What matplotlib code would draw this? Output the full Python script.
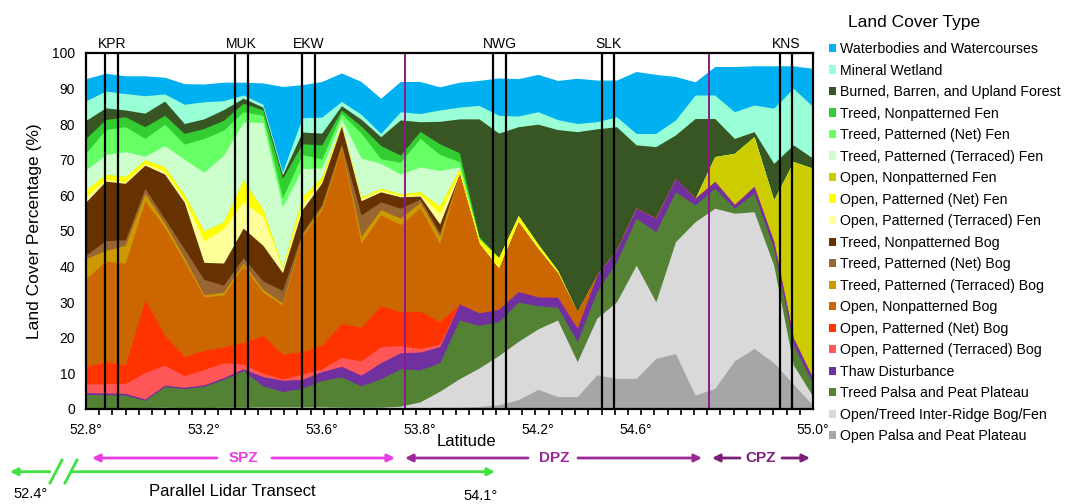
import numpy as np
import matplotlib.pyplot as plt
from matplotlib.patches import Patch

plt.rcParams['font.family'] = ['Liberation Sans', 'DejaVu Sans']

W, H = 1065, 504

# 38 samples along the transect, 52.8 to 55.0 deg (axis is not linear in latitude)
sample = np.arange(38)
tick_idx = [0, 6, 12, 17, 23, 28, 37]
tick_labels = ['52.8°', '53.2°', '53.6°', '53.8°', '54.2°', '54.6°', '55.0°']

sites = ['KPR', 'MUK', 'EKW', 'NWG', 'SLK', 'KNS']
site_lines = [(0.97, 1.65), (7.59, 8.22), (10.99, 11.64),
              (20.73, 21.37), (26.25, 26.88), (35.3, 35.95)]
zone_lines = [16.21, 31.69]

# land cover percentage per sample, bottom of the stack first
open_palsa = [0, 0, 0, 0, 0, 0, 0, 0, 0, 0, 0, 0, 0, 0, 0, 0, 0.2, 0.3, 0.5, 0.5,
              0.7, 1.2, 2.6, 5.5, 3.5, 3.5, 9.6, 8.6, 8.6, 14.2, 15.6, 3.9, 5.8, 13.5,
              17.0, 13.0, 7.0, 1.0]
inter_ridge = [0.3, 0.4, 0.4, 0.4, 0.5, 0.4, 0.4, 0.5, 0.5, 0.6, 0.6, 0.6, 0.6, 0.5,
               0.5, 0.5, 0.6, 1.7, 4.5, 8.0, 10.8, 13.8, 16.4, 17.0, 21.5, 9.8, 15.9,
               21.5, 31.8, 15.9, 31.4, 48.7, 50.6, 41.5, 38.4, 27.4, 5.4, 2.5]
treed_palsa = [3.8, 3.6, 3.5, 2.0, 5.8, 5.3, 6.0, 7.8, 10.3, 5.9, 4.3, 5.2, 7.4, 8.5,
               6.0, 8.0, 10.5, 9.0, 8.0, 16.5, 12.0, 9.5, 11.0, 6.5, 3.6, 5.6, 7.5,
               11.3, 13.2, 19.7, 14.0, 4.7, 5.6, 1.4, 5.2, 4.7, 5.6, 3.5]
thaw = [0.5, 0.5, 0.5, 0.4, 0.4, 0.4, 0.4, 0.5, 0.5, 2.6, 3.2, 2.5, 2.5, 3.0, 3.0, 4.5,
        4.5, 5.0, 4.5, 4.5, 3.5, 3.5, 3.0, 2.5, 2.8, 3.8, 4.6, 3.3, 2.8, 3.8, 3.8, 1.9,
        1.9, 1.0, 1.9, 1.9, 1.9, 1.5]
open_terr_bog = [2.4, 2.6, 2.8, 7.5, 5.6, 3.3, 4.3, 4.2, 1.3, 1.0, 0.3, 1.5, 0.8, 2.5,
                 4.0, 4.5, 2.0, 1.0, 0.8] + [0] * 19
open_net_bog = [4.9, 6.2, 5.2, 20.3, 8.5, 5.3, 5.4, 4.4, 6.1, 10.5, 7.0, 6.3, 6.6, 9.5,
                9.5, 11.5, 9.5, 10.5, 6.2] + [0] * 19
open_nonpat_bog = [24.8, 28.2, 28.6, 27.9, 30.2, 26.8, 15.0, 14.6, 21.5, 12.2, 13.8,
                   32.4, 38.0, 49.3, 23.5, 25.5, 24.5, 29.0, 22.0, 36.5, 19.5, 11.5,
                   19.5, 13.5, 6.8, 4.6] + [0] * 12
treed_terr_bog = [5.6, 3.0, 5.0, 2.0, 1.2, 1.0, 0.6, 0.8, 0.8, 0.8, 0.6, 0.5, 0.8, 0.5,
                  2.0, 1.5, 1.8, 1.5, 2.0] + [0] * 19
treed_net_bog = [1.0, 2.8, 1.5, 1.5, 1.3, 2.5, 4.3, 2.0, 1.5, 2.4, 3.5, 0.5, 0.8, 0.7,
                 6.0, 2.2, 2.8, 1.0, 1.0] + [0] * 19
treed_nonpat_bog = [14.9, 16.7, 15.9, 6.5, 12.5, 13.1, 4.8, 6.2, 8.3, 10.0, 5.0, 6.5,
                    6.0, 5.0, 4.0, 2.8, 3.2, 0.8, 2.5] + [0] * 19
open_terr_fen = [1.5, 0.5, 0.5, 0.5, 0.8, 0.8, 6.0, 9.7, 7.5, 8.0, 1.2, 1.5, 0.5, 0.3,
                 0.6, 0.5, 0.3, 0.4, 3.0, 0.3, 0.3, 0.5, 0.3, 0.3, 0.2] + [0] * 13
open_net_fen = [1.9, 1.4, 1.4, 1.0, 1.2, 1.3, 2.8, 1.9, 6.0, 2.0, 0.3, 2.0, 1.2, 0.2,
                0.4, 0.5, 0.5, 0.8, 2.0, 1.2, 1.0, 2.5, 1.5, 1.0, 0.5] + [0] * 13
open_nonpat_fen = [0] * 32 + [7.0, 14.4, 14.0, 11.7, 49.6, 59.1]
treed_terr_fen = [5.6, 5.6, 7.0, 1.0, 6.0, 10.0, 16.5, 18.7, 16.3, 24.5, 17.0, 8.0, 2.5,
                  1.5, 11.0, 7.0, 5.6, 7.0, 10.0, 0.5] + [0] * 18
treed_net_fen = [4.7, 7.0, 7.0, 5.0, 6.0, 4.2, 9.5, 7.0, 2.9, 2.0, 2.5, 4.0, 2.5, 1.5,
                 7.0, 1.3, 3.3, 8.0, 4.5, 1.5, 0.2] + [0] * 17
treed_nonpat_fen = [4.2, 2.8, 2.8, 3.3, 2.5, 3.0, 2.8, 2.8, 2.4, 1.5, 5.5, 3.0, 4.0, 1.0,
                    2.0, 3.7, 2.0, 2.0, 3.0, 2.5, 0.5] + [0] * 17
burned_upland = [5.0, 3.3, 1.9, 3.8, 4.0, 2.8, 2.7, 3.0, 1.4, 0.8, 1.0, 3.3, 3.3, 1.2,
                 1.9, 2.5, 9.9, 2.7, 6.3, 9.5, 33.0, 35.0, 25.0, 33.7, 39.6, 50.6, 41.1,
                 34.6, 17.8, 20.1, 12.2, 22.4, 10.7, 4.2, 1.4, 10.3, 4.7, 2.8]
mineral_wetland = [5.5, 4.7, 4.6, 4.9, 2.0, 5.4, 4.8, 2.5, 0.9, 0.8, 0.8, 4.0, 4.5, 1.2,
                   1.4, 0.9, 2.3, 2.3, 3.2, 3.3, 3.8, 5.0, 3.0, 3.5, 2.8, 2.3, 2.0, 2.8,
                   3.2, 3.7, 4.2, 6.6, 6.6, 7.5, 7.5, 15.5, 15.9, 14.5]
water = [6.2, 5.0, 5.0, 5.6, 4.7, 5.8, 5.0, 5.2, 3.6, 6.0, 24.0, 9.3, 10.0, 8.0, 9.2,
         9.9, 8.5, 9.0, 6.5, 7.0, 7.0, 10.5, 10.5, 10.5, 11.0, 12.7, 11.7, 10.3, 17.4,
         16.6, 12.2, 3.7, 8.0, 12.7, 11.0, 11.9, 6.3, 10.8]

layers = [
    ('Open Palsa and Peat Plateau', open_palsa, '#a6a6a6'),
    ('Open/Treed Inter-Ridge Bog/Fen', inter_ridge, '#d9d9d9'),
    ('Treed Palsa and Peat Plateau', treed_palsa, '#548235'),
    ('Thaw Disturbance', thaw, '#7030a0'),
    ('Open, Patterned (Terraced) Bog', open_terr_bog, '#ff5757'),
    ('Open, Patterned (Net) Bog', open_net_bog, '#ff3300'),
    ('Open, Nonpatterned Bog', open_nonpat_bog, '#cc6600'),
    ('Treed, Patterned (Terraced) Bog', treed_terr_bog, '#cc9900'),
    ('Treed, Patterned (Net) Bog', treed_net_bog, '#996633'),
    ('Treed, Nonpatterned Bog', treed_nonpat_bog, '#663300'),
    ('Open, Patterned (Terraced) Fen', open_terr_fen, '#ffff99'),
    ('Open, Patterned (Net) Fen', open_net_fen, '#ffff00'),
    ('Open, Nonpatterned Fen', open_nonpat_fen, '#cccc00'),
    ('Treed, Patterned (Terraced) Fen', treed_terr_fen, '#ccffcc'),
    ('Treed, Patterned (Net) Fen', treed_net_fen, '#66ff66'),
    ('Treed, Nonpatterned Fen', treed_nonpat_fen, '#33cc33'),
    ('Burned, Barren, and Upland Forest', burned_upland, '#375623'),
    ('Mineral Wetland', mineral_wetland, '#99ffd6'),
    ('Waterbodies and Watercourses', water, '#00b0f0'),
]


def fig_xy(px, py):
    return px / W, 1 - py / H


fig = plt.figure(figsize=(W / 100, H / 100), dpi=100)
ax = fig.add_axes([86 / W, 1 - 409 / H, 727 / W, 356 / H])

# draw from the tallest cumulative top down so that no seams appear
tops = np.cumsum([np.array(v, float) for _, v, _ in layers], axis=0)
for k in range(len(layers) - 1, -1, -1):
    ax.fill_between(sample, 0, tops[k], color=layers[k][2], lw=0, zorder=1)

for a, b in site_lines:
    ax.axvline(a, color='black', lw=1.6, zorder=3)
    ax.axvline(b, color='black', lw=1.6, zorder=3)
for name, (a, b) in zip(sites, site_lines):
    ax.text((a + b) / 2, 102.6, name, ha='center', va='center', fontsize=10,
            clip_on=False)
for z in zone_lines:
    ax.axvline(z, color='#8b1a89', lw=1.4, zorder=3)

ax.set_xlim(0, 37)
ax.set_ylim(0, 100)
ax.set_yticks(np.arange(0, 101, 10))
ax.set_xticks(tick_idx)
ax.set_xticklabels(tick_labels)
ax.set_xticks(np.linspace(0, 37, 56), minor=True)
ax.tick_params(axis='x', which='major', length=0, pad=10, labelsize=10)
ax.tick_params(axis='x', which='minor', length=4, width=1.2, direction='out')
ax.tick_params(axis='y', length=0, pad=8, labelsize=10)
for s in ax.spines.values():
    s.set_linewidth(1.6)
    s.set_zorder(4)

ax.set_ylabel('Land Cover Percentage (%)', fontsize=12.5)
ax.yaxis.set_label_coords(-0.06, 0.5)
fig.text(*fig_xy(466, 442), 'Latitude', ha='center', va='center', fontsize=12)

# legend, top entry first
handles = [Patch(facecolor=c, edgecolor='none', label=n) for n, _, c in layers[::-1]]
fig.legend(handles=handles, loc='upper left', bbox_to_anchor=fig_xy(829, 42),
           frameon=False, fontsize=10.2, handlelength=0.5, handleheight=0.5,
           handletextpad=0.3, labelspacing=0.53, borderpad=0, borderaxespad=0)
fig.text(*fig_xy(848, 22), 'Land Cover Type', ha='left', va='center', fontsize=12.5)


def arrow(p_from, p_to, color):
    ax.annotate('', xy=fig_xy(*p_to), xytext=fig_xy(*p_from),
                xycoords='figure fraction', textcoords='figure fraction',
                arrowprops=dict(arrowstyle='-|>', color=color, lw=2,
                                mutation_scale=11, shrinkA=0, shrinkB=0),
                annotation_clip=False)


def zone(x0, x1, gap0, gap1, label, color, xlab):
    arrow((gap0, 458), (x0, 458), color)
    arrow((gap1, 458), (x1, 458), color)
    fig.text(*fig_xy(xlab, 458), label, ha='center', va='center', fontsize=11,
             fontweight='bold', color=color)


zone(92, 395, 217, 272, 'SPZ', '#e83ee4', 243)
zone(405, 702, 528, 578, 'DPZ', '#9c2796', 554)
zone(712, 810, 740, 782, 'CPZ', '#7b1f78', 761)

green = '#3ee23e'
arrow((50, 471.7), (10, 471.7), green)
arrow((72, 471.7), (495, 471.7), green)
for sx in (50, 65):
    fig.add_artist(plt.Line2D([sx / W, (sx + 12) / W], [1 - 483 / H, 1 - 460 / H],
                              color=green, lw=2))
fig.text(*fig_xy(31, 494), '52.4°', ha='center', va='center', fontsize=10.5)
fig.text(*fig_xy(232, 492), 'Parallel Lidar Transect', ha='center', va='center',
         fontsize=12)
fig.text(*fig_xy(481, 496), '54.1°', ha='center', va='center', fontsize=10.5)

fig.savefig('out.png', dpi=100)
